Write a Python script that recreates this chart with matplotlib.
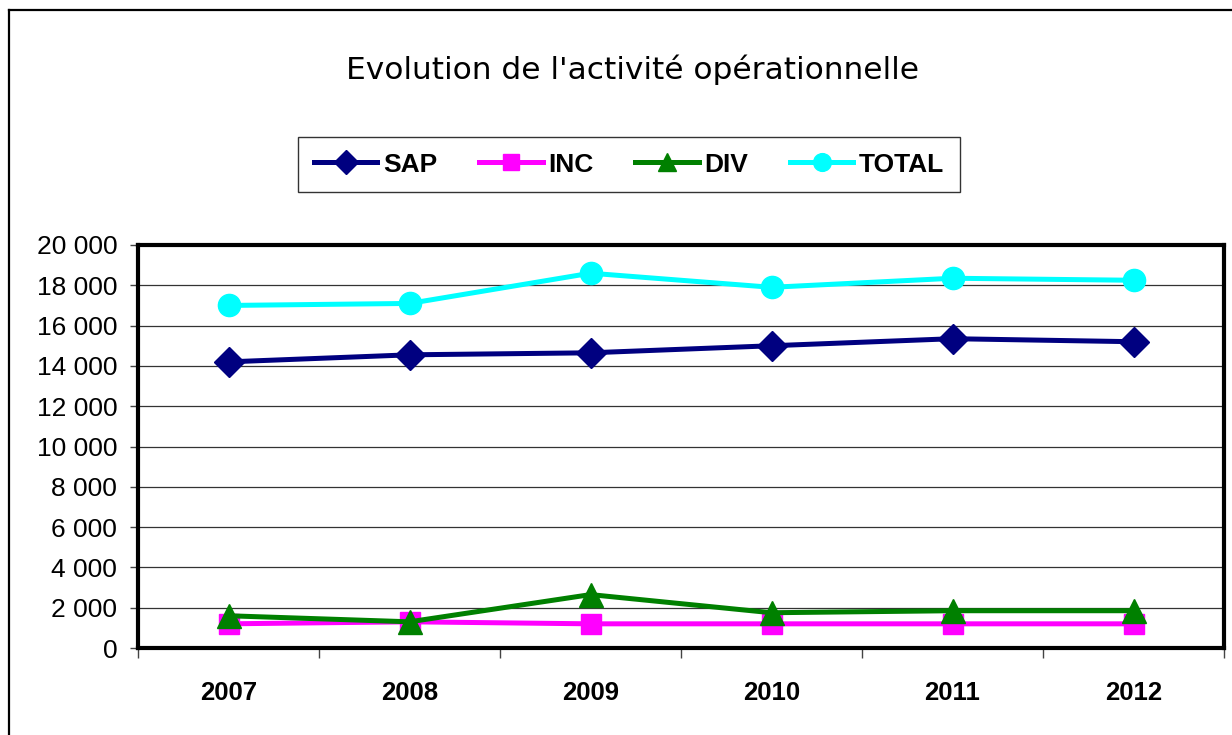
import numpy as np
import matplotlib.pyplot as plt
from matplotlib.lines import Line2D
from matplotlib.ticker import FuncFormatter, FixedLocator

years = ["2007", "2008", "2009", "2010", "2011", "2012"]
sap = [14200, 14550, 14650, 15000, 15350, 15200]
inc = [1200, 1300, 1200, 1200, 1200, 1200]
div = [1600, 1300, 2650, 1750, 1850, 1850]
total = [17000, 17100, 18600, 17900, 18350, 18250]

plt.rcParams['font.family'] = ['Liberation Sans', 'DejaVu Sans']

fig = plt.figure(figsize=(12.32, 7.35), dpi=100)
W, H = 1232, 735

# outer chart area border (left and top visible, the rest is cropped)
fig.add_artist(Line2D([9/W, 9/W], [0, 1-10/H], transform=fig.transFigure, color="black", lw=1.6))
fig.add_artist(Line2D([9/W, 1], [1-10/H, 1-10/H], transform=fig.transFigure, color="black", lw=1.6))

ax = fig.add_axes([138/W, 1-648/H, (1224-138)/W, (648-245)/H])
x = np.arange(len(years))

ax.plot(x, sap, color="#000080", lw=3.6, marker="D", ms=15, label="SAP", zorder=5)
ax.plot(x, inc, color="#FF00FF", lw=3.6, marker="s", ms=15, label="INC", zorder=4)
ax.plot(x, div, color="#008000", lw=3.6, marker="^", ms=17, label="DIV", zorder=6)
ax.plot(x, total, color="#00FFFF", lw=3.6, marker="o", ms=16, label="TOTAL", zorder=5)

ax.set_xlim(-0.5, len(years) - 0.5)
ax.set_ylim(0, 20000)
ax.set_yticks(np.arange(0, 20001, 2000))
ax.yaxis.set_major_formatter(FuncFormatter(lambda v, p: f"{int(v):,}".replace(",", " ")))
ax.grid(axis="y", color="#333333", lw=0.9)
ax.set_axisbelow(True)

ax.set_xticks(x)
ax.set_xticklabels(years, fontsize=18.5, fontweight="bold")
ax.xaxis.set_minor_locator(FixedLocator(np.arange(-0.5, len(years), 1.0)))
ax.tick_params(axis="x", which="major", length=0, pad=24)
ax.tick_params(axis="x", which="minor", length=7, width=1, color="#444444", direction="out")
ax.tick_params(axis="y", length=6, width=1, color="#444444", labelsize=19, pad=9)

for s in ax.spines.values():
    s.set_linewidth(3)
    s.set_color("black")

fig.text(633/W, 1-70/H, "Evolution de l'activité opérationnelle", ha="center", va="center",
         fontsize=22.5, family=["DejaVu Sans"])

leg = fig.legend(loc="center", bbox_to_anchor=(629/W, 1-164.5/H), ncol=4,
                 prop={"weight": "bold", "size": 19}, frameon=True, fancybox=False,
                 edgecolor="black", handlelength=2.4, handletextpad=0.2, columnspacing=1.6,
                 markerscale=0.8, borderpad=0.6)
leg.get_frame().set_linewidth(1.0)

fig.savefig("out.png", dpi=100)
